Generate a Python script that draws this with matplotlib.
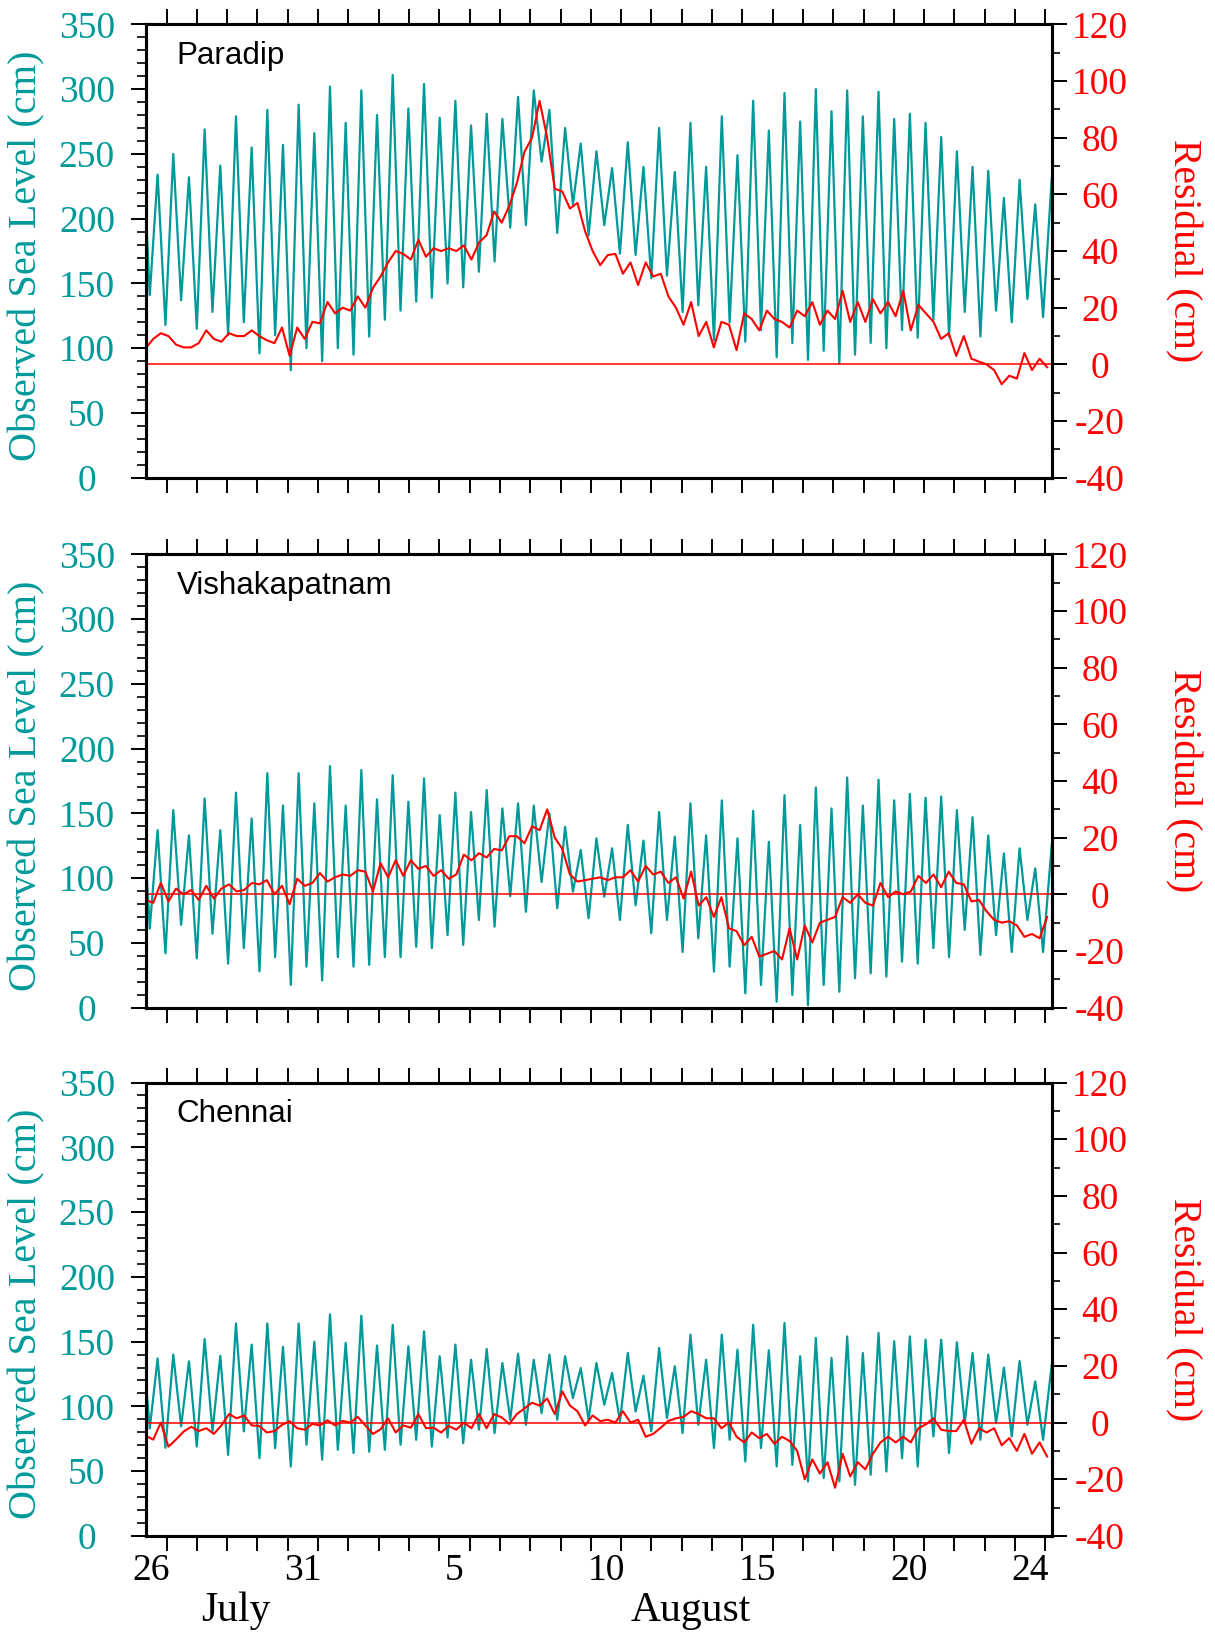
import numpy as np
import matplotlib.pyplot as plt
from matplotlib.ticker import MultipleLocator, FixedLocator, FixedFormatter, NullFormatter

# -------------------- Data --------------------
# time in days counted from 1 July (32 = 1 August)
t_start, t_end = 26.31, 56.21
first_low = 26.445      # time of the first low water
half_cycle = 0.2586     # half of the semi-diurnal tidal period (days)
res_step = 0.25         # residual sampling step (days)

stations = ['Paradip', 'Vishakapatnam', 'Chennai']

# observed sea level (cm): edge values, low waters and high waters (in time order)
paradip_edges = [209, 231]
paradip_lows = [141, 118, 137, 115, 128, 110, 120, 96, 110, 83, 100, 90, 100, 95, 109, 122, 129, 136, 139, 150,
                147, 159, 167, 193, 195, 244, 189, 211, 187, 195, 173, 172, 154, 156, 128, 133, 106, 120, 105,
                114, 93, 104, 91, 98, 88, 95, 104, 100, 114, 108, 122, 109, 128, 109, 129, 120, 138, 124]
paradip_highs = [234, 250, 232, 269, 241, 279, 255, 284, 257, 288, 266, 302, 274, 299, 280, 311, 285, 304, 278,
                 291, 272, 281, 277, 294, 299, 284, 270, 258, 252, 239, 259, 240, 270, 236, 274, 240, 279, 249,
                 291, 268, 297, 275, 300, 283, 299, 279, 298, 277, 281, 274, 263, 252, 240, 237, 216, 230, 211]
paradip_resid = [5.7, 9, 11, 10, 7, 6, 6, 7.5, 12, 9,
                 8, 11, 10, 10, 12, 10, 8.5, 7.5, 13, 3,
                 13, 9, 15, 14.5, 22, 18, 20, 19, 24, 20,
                 27, 31, 36, 40, 39, 37, 44, 38, 41, 40,
                 41, 40, 42, 37, 43, 45.6, 54, 50, 56, 64,
                 75, 80, 93, 80, 62, 61, 55, 57, 47, 40,
                 35, 38.6, 39, 32, 36, 28, 36, 31, 32, 24,
                 20, 14, 22, 10, 15, 6, 15, 14, 5, 18,
                 16, 12, 19, 16, 15, 13, 19, 17, 22, 14,
                 19, 16, 26, 15, 22, 15, 23, 18, 22, 17,
                 26, 12, 21, 18, 15, 9, 11, 3, 10, 2,
                 1, 0, -2, -7, -4, -5, 4, -2, 2, -1]

vizag_edges = [116.5, 125.5]
vizag_lows = [61, 42, 64, 38, 57, 34, 46, 28, 39, 17.5, 31.6, 21, 39, 31.6, 33, 39, 39, 47, 46, 56,
              48.4, 67.7, 62.5, 86, 74, 97, 76.7, 89.5, 69, 85.6, 67.7, 79, 57.4, 67.7, 43, 53.5, 27.8, 31.6, 11,
              17.5, 4.6, 9.8, 2, 17.5, 12.3, 22.7, 26.5, 24, 35.5, 34, 46, 39, 60, 40.7, 56, 43, 67.7, 43]
vizag_highs = [137, 152.5, 133, 161.5, 137, 166, 146, 181, 156, 181, 157.7, 186.5, 156, 183.4, 160.8, 179.5, 159, 177, 148.6,
               166, 151, 168, 153.8, 157.7, 156, 150, 139.6, 121.7, 130.7, 123, 141, 129, 151, 132, 157.7, 133, 160, 130.7,
               152, 128, 164, 141, 170, 153.8, 177.7, 156, 176, 160, 165, 162, 163, 152.5, 147, 133, 119, 123, 107.5]
vizag_resid = [-2, -3, 4, -2.5, 2, 0, 1.5, -2, 3, -1.5,
               2, 3.5, 1, 1.5, 4, 3.5, 5, 0, 3, -3.5,
               5.5, 3, 4, 7.5, 4.5, 6, 7, 6.5, 8.5, 8,
               1, 11, 6, 12, 6.5, 12, 9, 10, 6.5, 8.5,
               5.5, 7, 14, 12, 14.5, 13, 16, 15.5, 20.5, 20.5,
               18, 24, 22.6, 30, 20, 16, 7, 4.5, 5, 5.5,
               6, 5, 6, 6, 8.5, 4.5, 10, 7, 8, 4,
               6, -1.5, 8, -4, -1, -8, -1, -12, -13, -18,
               -15, -22, -21, -20, -23, -12, -23, -11, -17, -10,
               -9, -8, -1, -3, 0, -3, -4, 4, -1, 1,
               0, 1, 6.5, 4, 7, 2.5, 8, 4, 3.5, -2.5,
               -2, -6, -9, -10, -9.5, -11, -15, -14, -15.5, -8]

chennai_edges = [120.6, 132]
chennai_lows = [83, 68, 84.5, 69, 80.7, 62.6, 80.7, 60, 67.8, 53.6, 70.4, 58.8, 66.5, 64, 65, 66.5, 70.4, 74.2, 69, 76,
                71.6, 82, 79.4, 89.7, 85.8, 94.8, 89.7, 106.4, 89.7, 101.3, 88.4, 96, 80.7, 91, 79.4, 85.8, 67.8, 74.2, 57.5,
                67.8, 53.6, 54.9, 42, 44.6, 42, 39.4, 47.2, 49.7, 60, 53.6, 76.8, 64, 87, 74.2, 87, 76.8, 85.8, 74.2]
chennai_highs = [137, 140, 134.8, 152, 139, 164, 147.7, 164, 146, 164, 150, 171, 149, 170, 147, 163, 146.4, 158, 138.7,
                 147.7, 136, 144.3, 133.5, 140.7, 136, 140, 138.7, 129.6, 133.5, 125.8, 141.2, 123.7, 145.1, 131, 155.4, 136, 155.4, 143.8,
                 163, 143.3, 164.4, 138.7, 152.8, 137.4, 154, 141.2, 156.7, 150.3, 154, 151.5, 151.5, 149.5, 141.2, 140, 130, 135, 119.3]
chennai_resid = [-4.7, -6, 0, -8.5, -6, -3.2, -1.5, -3, -2, -4,
                 -1, 3, 1.5, 2.5, -1, -1.2, -3.5, -3, -0.8, 0.5,
                 -2, -2.5, -0.5, -1, 0.8, -1, 0.6, 0, 2, -1,
                 -4, -2.4, 1.5, -3.5, -1, -1.8, 3, -2, -1.8, -3.5,
                 -1.2, -2.5, 0, -2, 3, -2, 3, 1.8, -0.5, 3,
                 5, 7, 6, 8.5, 3, 11, 6, 4, -1, 2.5,
                 0.5, 1, 0, 4, 0, 1, -5, -4, -1.8, 0.6,
                 1.5, 2, 4, 3, 1.5, 1.5, -2, 0, -5, -7,
                 -3.5, -5.5, -4, -7.5, -5, -6.5, -10, -20, -13, -18,
                 -14, -23, -11, -19, -14, -16.5, -11, -7, -5, -7,
                 -5, -7, -2, -0.6, 1.5, -2.5, -3, -3, 1, -7.5,
                 -2, -3.5, -2, -8, -5.5, -10, -4, -11, -7, -12]

# x tick labels (placed at noon of the day) and month names
label_days = [26.5, 31.5, 36.5, 41.5, 46.5, 51.5, 55.5]
day_labels = ['26', '31', '5', '10', '15', '20', '24']
months = ['July', 'August']
month_pos = [29.29, 44.3]

panels = [
    (stations[0], paradip_edges, paradip_lows, paradip_highs, paradip_resid),
    (stations[1], vizag_edges, vizag_lows, vizag_highs, vizag_resid),
    (stations[2], chennai_edges, chennai_lows, chennai_highs, chennai_resid),
]

# -------------------- Plot --------------------
plt.rcParams['font.family'] = 'Liberation Serif'
plt.rcParams['axes.unicode_minus'] = False

teal = '#009999'
red = '#ff0000'

fig = plt.figure(figsize=(12.15, 16.35), dpi=100)
bottoms = [0.7078, 0.3837, 0.0606]

for i, (name, edges, lows, highs, resid) in enumerate(panels):
    # interleave low and high waters
    ext = np.empty(len(lows) + len(highs))
    ext[0::2] = lows
    ext[1::2] = highs
    t_ext = first_low + half_cycle * np.arange(len(ext))
    tide_t = np.concatenate([[t_start], t_ext, [t_end]])
    tide_v = np.concatenate([[edges[0]], ext, [edges[1]]])
    res_t = t_start + res_step * np.arange(len(resid))

    ax = fig.add_axes([0.1199, bottoms[i], 0.7457, 0.2773])
    ax2 = ax.twinx()

    ax.plot(tide_t, tide_v, color=teal, lw=1.6, solid_joinstyle='round')
    ax2.axhline(0, color=red, lw=1.1)
    ax2.plot(res_t, resid, color=red, lw=1.5, solid_joinstyle='round')

    ax.set_xlim(t_start, t_end)
    ax.set_ylim(0, 350)
    ax2.set_ylim(-40, 120)

    ax.yaxis.set_major_locator(MultipleLocator(50))
    ax.yaxis.set_minor_locator(MultipleLocator(10))
    ax2.yaxis.set_major_locator(MultipleLocator(20))
    ax2.yaxis.set_minor_locator(MultipleLocator(10))
    ax.xaxis.set_major_locator(MultipleLocator(1))
    ax.xaxis.set_major_formatter(NullFormatter())
    ax.xaxis.set_ticks_position('both')

    ax.tick_params(axis='x', which='major', direction='out', length=10.8, width=1.4,
                   top=True, bottom=True)
    ax.tick_params(axis='y', which='major', direction='out', length=10.8, width=1.4,
                   labelcolor=teal, labelsize=27, pad=31.5)
    ax.tick_params(axis='y', which='minor', direction='out', length=6.5, width=1.2)
    ax2.tick_params(axis='y', which='major', direction='out', length=10.8, width=1.4,
                    labelcolor=red, labelsize=27, pad=24)
    ax2.tick_params(axis='y', which='minor', direction='out', length=6, width=1.2)
    for lab in ax.get_yticklabels() + ax2.get_yticklabels():
        lab.set_horizontalalignment('center')

    for sp in list(ax.spines.values()) + list(ax2.spines.values()):
        sp.set_linewidth(2.2)

    ax.text(0.034, 0.912, name, transform=ax.transAxes, family='Liberation Sans',
            fontsize=22.6, va='baseline', ha='left')
    ax.text(-0.131, 0.49, 'Observed Sea Level (cm)', transform=ax.transAxes, rotation=90,
            ha='center', va='center', color=teal, fontsize=29)
    ax2.text(1.145, 0.5, 'Residual (cm)', transform=ax2.transAxes, rotation=-90,
             ha='center', va='center', color=red, fontsize=28.5)

    if i == 2:
        ax.xaxis.set_minor_locator(FixedLocator(label_days))
        ax.xaxis.set_minor_formatter(FixedFormatter(day_labels))
        ax.tick_params(axis='x', which='minor', length=0, pad=13, labelsize=27)
        for m, xm in zip(months, month_pos):
            ax.text(xm, -0.166, m, transform=ax.get_xaxis_transform(),
                    ha='center', va='center', fontsize=30)

fig.savefig('out.png', dpi=100)
